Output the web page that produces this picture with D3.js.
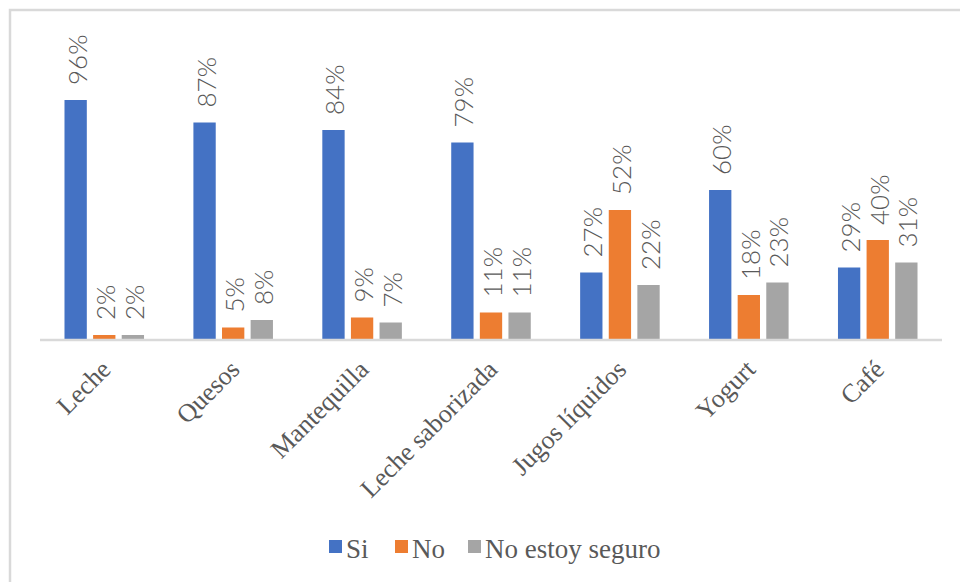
<!DOCTYPE html>
<html>
<head>
<meta charset="utf-8">
<script src="https://cdn.jsdelivr.net/npm/d3@7"></script>
<style>
  html, body { margin: 0; padding: 0; background: #ffffff; }
  svg { display: block; }
</style>
</head>
<body>
<svg id="chart" width="960" height="582"></svg>
<script>
// Categories and survey responses (% of respondents)
const categories = ["Leche", "Quesos", "Mantequilla", "Leche saborizada", "Jugos líquidos", "Yogurt", "Café"];
const seriesNames = ["Si", "No", "No estoy seguro"];
const siValues = [96, 87, 84, 79, 27, 60, 29];
const noValues = [2, 5, 9, 11, 52, 18, 40];
const unsureValues = [2, 8, 7, 11, 22, 23, 31];
const seriesColors = ["#4472C4", "#ED7D31", "#A5A5A5"];

const seriesValues = [siValues, noValues, unsureValues];
const rows = categories.map((c, i) => ({
  category: c,
  values: seriesNames.map((s, j) => ({ series: s, value: seriesValues[j][i] }))
}));

const svg = d3.select("#chart");
const W = 960, H = 582;
const textGray = "#595959";
const lineGray = "#d9d9d9";

// Chart area frame
svg.append("rect")
  .attr("x", 10).attr("y", 10)
  .attr("width", W + 20).attr("height", H + 20)
  .attr("fill", "none")
  .attr("stroke", lineGray)
  .attr("stroke-width", 2.5);

const plot = { left: 40, right: 942, top: 90, bottom: 340 };

const x0 = d3.scaleBand()
  .domain(categories)
  .range([plot.left, plot.right])
  .paddingInner(0.383)
  .paddingOuter(0.19);

const x1 = d3.scaleBand()
  .domain(seriesNames)
  .range([0, x0.bandwidth()])
  .paddingInner(0.22);

const y = d3.scaleLinear()
  .domain([0, 100])
  .range([plot.bottom, plot.top]);

const color = d3.scaleOrdinal().domain(seriesNames).range(seriesColors);

// Bars
const groups = svg.append("g").selectAll("g")
  .data(rows)
  .join("g")
  .attr("transform", d => `translate(${x0(d.category)},0)`);

groups.selectAll("rect")
  .data(d => d.values)
  .join("rect")
  .attr("x", d => x1(d.series))
  .attr("y", d => y(d.value))
  .attr("width", x1.bandwidth())
  .attr("height", d => y(0) - y(d.value))
  .attr("fill", d => color(d.series));

// Value labels, rotated above each bar
groups.selectAll("text")
  .data(d => d.values)
  .join("text")
  .attr("transform", d => `translate(${x1(d.series) + x1.bandwidth() / 2 + 1},${y(d.value) - 15}) rotate(-90)`)
  .attr("text-anchor", "start")
  .attr("dominant-baseline", "central")
  .attr("font-family", "Lato, 'Open Sans', sans-serif")
  .attr("font-weight", 300)
  .attr("font-size", 26)
  .attr("fill", textGray)
  .text(d => d.value + "%");

// Category axis
const xAxis = svg.append("g")
  .attr("transform", `translate(0,${plot.bottom})`)
  .call(d3.axisBottom(x0).tickSize(0).tickPadding(0));
xAxis.select(".domain")
  .attr("d", `M${plot.left},0H${plot.right}`)
  .attr("stroke", lineGray)
  .attr("stroke-width", 2.5);
xAxis.selectAll(".tick text")
  .attr("font-family", "'Liberation Serif', 'Times New Roman', serif")
  .attr("font-size", 26)
  .attr("fill", textGray)
  .attr("text-anchor", "end")
  .attr("dy", null)
  .attr("y", 0)
  .attr("dominant-baseline", "central")
  .attr("transform", "translate(2,25) rotate(-45)");

// Legend
const legendItems = [
  { name: "Si", x: 329 },
  { name: "No", x: 395 },
  { name: "No estoy seguro", x: 468 }
];
const legend = svg.append("g");
legend.selectAll("rect")
  .data(legendItems)
  .join("rect")
  .attr("x", d => d.x)
  .attr("y", 540)
  .attr("width", 13)
  .attr("height", 13)
  .attr("fill", d => color(d.name));
legend.selectAll("text")
  .data(legendItems)
  .join("text")
  .attr("x", d => d.x + 17)
  .attr("y", 558)
  .attr("font-family", "'Liberation Serif', 'Times New Roman', serif")
  .attr("font-size", 27)
  .attr("fill", textGray)
  .text(d => d.name);
</script>
</body>
</html>
